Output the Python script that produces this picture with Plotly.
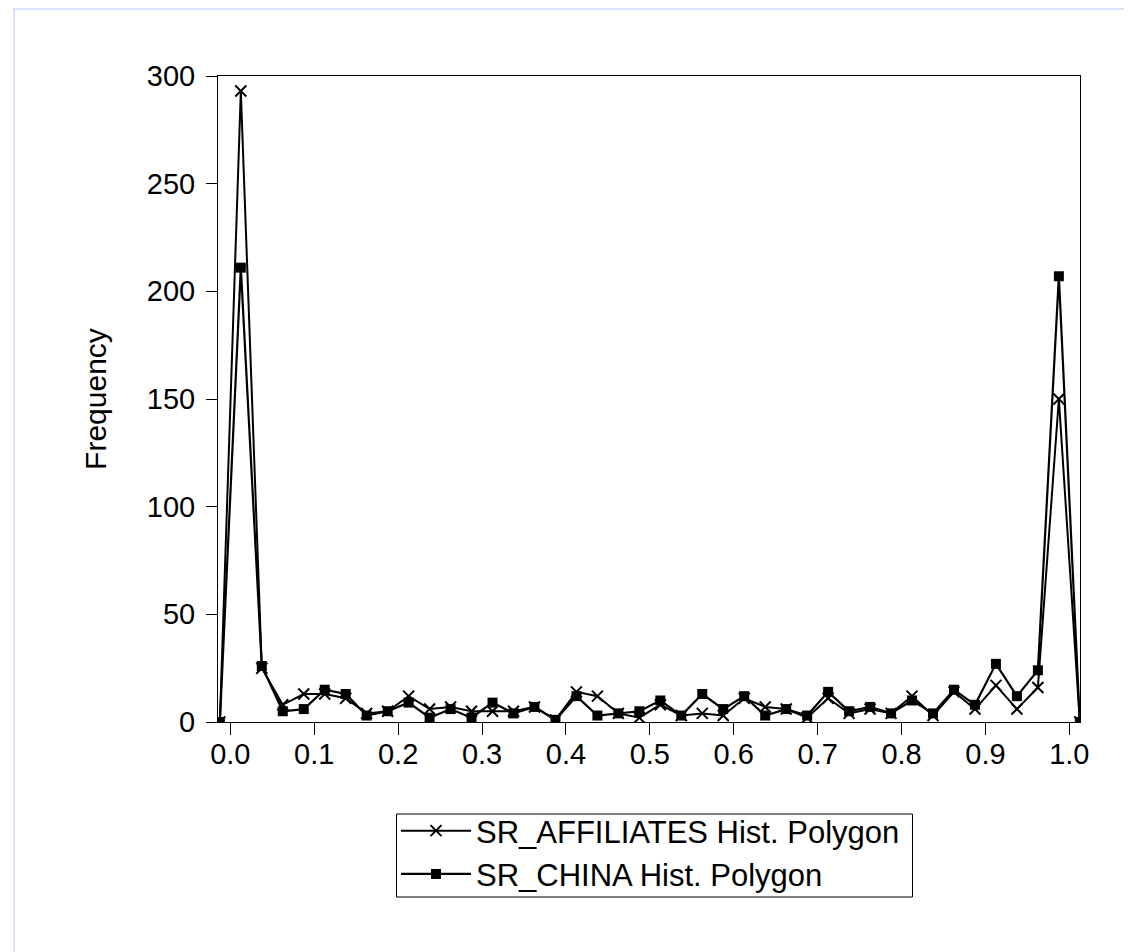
import plotly.graph_objects as go

# Histogram polygon x positions (bin midpoints, bin width 0.025, plus closing end points)
bin_mid = [-0.0125, 0.0125, 0.0375, 0.0625, 0.0875, 0.1125, 0.1375, 0.1625, 0.1875, 0.2125,
           0.2375, 0.2625, 0.2875, 0.3125, 0.3375, 0.3625, 0.3875, 0.4125, 0.4375, 0.4625,
           0.4875, 0.5125, 0.5375, 0.5625, 0.5875, 0.6125, 0.6375, 0.6625, 0.6875, 0.7125,
           0.7375, 0.7625, 0.7875, 0.8125, 0.8375, 0.8625, 0.8875, 0.9125, 0.9375, 0.9625,
           0.9875, 1.0125]

sr_affiliates = [0, 293, 25, 8, 13, 13, 11, 4, 5, 12, 6, 7, 5, 5, 5, 7, 1, 14, 12, 4, 2,
                 8, 3, 4, 3, 11, 7, 6, 2, 11, 4, 6, 4, 12, 3, 14, 6, 17, 6, 16, 150, 0]

sr_china = [0, 211, 26, 5, 6, 15, 13, 3, 5, 9, 2, 6, 2, 9, 4, 7, 1, 12, 3, 4, 5,
            10, 3, 13, 6, 12, 3, 6, 3, 14, 5, 7, 4, 10, 4, 15, 8, 27, 12, 24, 207, 0]

x_ticks = [0.0, 0.1, 0.2, 0.3, 0.4, 0.5, 0.6, 0.7, 0.8, 0.9, 1.0]
x_tick_labels = ["0.0", "0.1", "0.2", "0.3", "0.4", "0.5", "0.6", "0.7", "0.8", "0.9", "1.0"]
y_ticks = [0, 50, 100, 150, 200, 250, 300]

FONT = "Liberation Sans, Arial, sans-serif"
FS_TICK = 29
FS_TITLE = 30
FS_LEG = 31

fig = go.Figure()
fig.add_trace(go.Scatter(
    x=bin_mid, y=sr_affiliates, mode="lines+markers",
    name="SR_AFFILIATES Hist. Polygon",
    line=dict(color="black", width=2),
    marker=dict(symbol="x-thin", size=11, color="black", line=dict(color="black", width=2)),
))
fig.add_trace(go.Scatter(
    x=bin_mid, y=sr_china, mode="lines+markers",
    name="SR_CHINA Hist. Polygon",
    line=dict(color="black", width=2.2),
    marker=dict(symbol="square", size=10, color="black"),
))

# page body has an 8px offset; plot box in the target spans x 218..1080, y 76..722
OFF = 8
W, H = 1132, 952
PL, PR, PT, PB = 218, 1080, 76, 722
L, T = PL - OFF, PT - OFF
R, B = W - PR + OFF, H - PB + OFF
pw, ph = PR - PL, PB - PT

def px_x(px):
    return (px - PL) / pw

def px_y(py):
    return (PB - py) / ph

fig.update_layout(
    width=W, height=H,
    margin=dict(l=L, r=R, t=T, b=B, pad=0),
    paper_bgcolor="white", plot_bgcolor="white",
    font=dict(family=FONT, size=FS_TICK, color="black"),
    showlegend=True,
    legend=dict(
        x=px_x(396), y=px_y(804), xanchor="left", yanchor="top",
        borderwidth=0, bgcolor="rgba(0,0,0,0)",
        font=dict(family=FONT, size=FS_LEG, color="black"),
        itemwidth=70, tracegroupgap=0,
    ),
    xaxis=dict(
        range=[-0.0147, 1.0127],
        tickvals=x_ticks, ticktext=x_tick_labels,
        ticks="outside", ticklen=12, tickwidth=1, tickcolor="black",
        showline=True, linecolor="black", linewidth=1, mirror=True,
        showgrid=False, zeroline=False,
        ticklabelstandoff=-6,
        tickfont=dict(family=FONT, size=FS_TICK, color="black"),
    ),
    yaxis=dict(
        range=[0, 300],
        tickvals=y_ticks,
        ticks="outside", ticklen=11, tickwidth=1, tickcolor="black",
        showline=True, linecolor="black", linewidth=1, mirror=True,
        showgrid=False, zeroline=False,
        ticklabelstandoff=5,
        title=dict(text="Frequency", font=dict(family=FONT, size=FS_TITLE, color="black"), standoff=31),
        tickfont=dict(family=FONT, size=FS_TICK, color="black"),
    ),
    shapes=[
        dict(
            type="rect", xref="paper", yref="paper",
            x0=px_x(14), x1=px_x(1170), y0=px_y(990), y1=px_y(9),
            line=dict(color="#dbe3fa", width=2), fillcolor="rgba(0,0,0,0)", layer="below",
        ),
        # legend frame
        dict(
            type="rect", xref="paper", yref="paper",
            x0=px_x(396.5), x1=px_x(912.5), y0=px_y(897), y1=px_y(814),
            line=dict(color="black", width=1), fillcolor="rgba(0,0,0,0)", layer="above",
        ),
    ],
)

fig.write_html("out.html")
